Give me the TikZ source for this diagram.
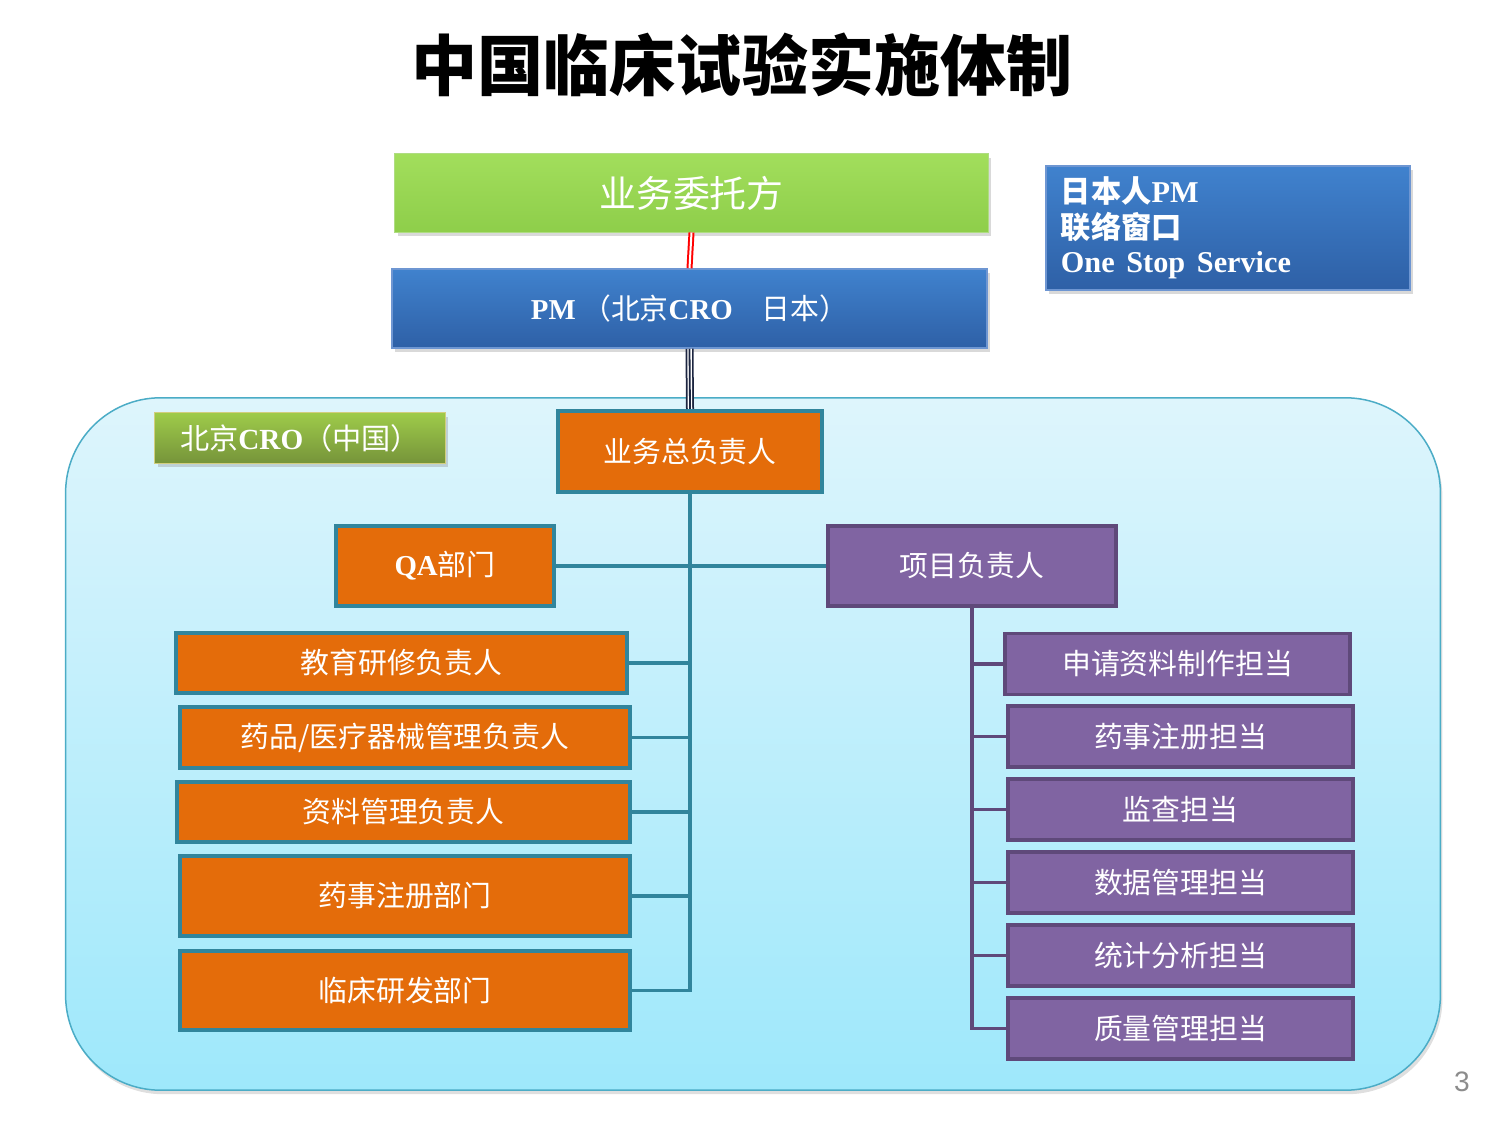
\documentclass[tikz,border=0pt]{standalone}
\usepackage{fontspec}
\setmainfont{Liberation Serif}
\setsansfont{Liberation Sans}
\newfontfamily\cjk{Noto Sans CJK SC}
\usepackage{tikz}
\usetikzlibrary{shadows}
\usepackage{xcolor}
\definecolor{orgfill}{HTML}{E46C0A}
\definecolor{orgline}{HTML}{31859C}
\definecolor{purfill}{HTML}{8064A2}
\definecolor{purline}{HTML}{5F497A}
\definecolor{navyline}{HTML}{1C2540}
\definecolor{skytop}{HTML}{DEF5FC}
\definecolor{skybottom}{HTML}{9EE8FB}
\definecolor{skyline}{HTML}{4BACC6}
\newcommand{\lat}[1]{{\rmfamily\bfseries #1}}
\tikzset{
  region/.style={
    rectangle,
    rounded corners=0.95cm,
    draw=skyline,
    line width=0.015cm,
    top color=skytop,
    bottom color=skybottom,
    drop shadow={shadow xshift=0.02cm, shadow yshift=-0.04cm, opacity=0.25}
    },
  greenbox/.style={
    rectangle,
    draw={rgb,255:red,175;green,220;blue,130},
    line width=0.01cm,
    top color={rgb,255:red,162;green,222;blue,92},
    bottom color={rgb,255:red,142;green,206;blue,74},
    text=white,
    drop shadow={shadow xshift=0.03cm, shadow yshift=-0.04cm, opacity=0.3}
    },
  labelbox/.style={
    rectangle,
    draw=olive!40,
    line width=0.01cm,
    top color={rgb,255:red,158;green,203;blue,74},
    bottom color={rgb,255:red,118;green,148;blue,58},
    text=white,
    drop shadow={shadow xshift=0.03cm, shadow yshift=-0.04cm, opacity=0.3}
    },
  bluebox/.style={
    rectangle,
    draw={rgb,255:red,110;green,150;blue,210},
    line width=0.015cm,
    top color={rgb,255:red,64;green,130;blue,206},
    bottom color={rgb,255:red,46;green,96;blue,166},
    text=white,
    drop shadow={shadow xshift=0.03cm, shadow yshift=-0.04cm, opacity=0.3}
    },
  orgbox/.style={
    rectangle,
    draw=orgline,
    line width=0.04cm,
    fill=orgfill,
    text=white,
    font=\cjk\fontsize{8.2}{10}\selectfont
    },
  purbox/.style={
    rectangle,
    draw=purline,
    line width=0.035cm,
    fill=purfill,
    text=white,
    minimum width=3.45cm,
    minimum height=0.61cm,
    font=\cjk\fontsize{8.2}{10}\selectfont
    },
  orglink/.style={draw=orgline, line width=0.035cm},
  purlink/.style={draw=purline, line width=0.035cm},
  redlink/.style={draw=red, line width=0.02cm, double=white, double distance=0.02cm},
  triplelink/.style={
    draw=navyline,
    line width=0.08cm,
    postaction={draw=white, line width=0.045cm},
    postaction={draw=navyline, line width=0.018cm}
    },
}

\begin{document}
\begin{tikzpicture}[
            x = 0.01cm, % one unit per pixel
            y = -0.01cm, % y runs downwards
            inner sep = 0pt
        ]

         \useasboundingbox (0,0) rectangle (1500,1125);

         % title
         \node (title) at (742,65) {\cjk\bfseries\fontsize{18.8}{22}\selectfont 中国临床试验实施体制};

         % Japan side
         \node[greenbox, minimum width=5.93cm, minimum height=0.78cm] (entrust) at (691.5,193)
              {\cjk\fontsize{10.5}{12}\selectfont 业务委托方};
         \node[bluebox, minimum width=5.95cm, minimum height=0.79cm] (pm) at (689.5,308.5)
              {\cjk\fontsize{8.2}{10}\selectfont \lat{PM} （北京\lat{CRO}\quad 日本）};
         \node[bluebox, minimum width=3.64cm, minimum height=1.24cm, text width=3.34cm, align=left] (jp) at (1228,228)
              {\cjk\bfseries\fontsize{8.6}{10.1}\selectfont 日本人\lat{PM}\\联络窗口\\[-2.3pt]\lat{One Stop Service}};

         % China side
         \node[region, minimum width=13.74cm, minimum height=6.92cm] (cn) at (753,744) {};
         \node[labelbox, minimum width=2.9cm, minimum height=0.5cm] (cnlabel) at (300,438)
              {\cjk\fontsize{8.3}{10}\selectfont 北京\lat{CRO}（中国）};

         \node[orgbox, minimum width=2.64cm, minimum height=0.81cm] (chief) at (690,451.5) {业务总负责人};
         \node[orgbox, minimum width=2.18cm, minimum height=0.8cm] (qa) at (445,566) {\lat{QA}部门};
         \node[purbox, minimum width=2.88cm, minimum height=0.8cm] (proj) at (972,566) {项目负责人};

         \node[orgbox, minimum width=4.51cm, minimum height=0.6cm] (edu) at (401.5,663) {教育研修负责人};
         \node[orgbox, minimum width=4.5cm, minimum height=0.61cm] (drug) at (405,737.5) {药品/医疗器械管理负责人};
         \node[orgbox, minimum width=4.53cm, minimum height=0.6cm] (doc) at (403.5,812) {资料管理负责人};
         \node[orgbox, minimum width=4.5cm, minimum height=0.8cm] (reg) at (405,896) {药事注册部门};
         \node[orgbox, minimum width=4.5cm, minimum height=0.79cm] (clin) at (405,990.5) {临床研发部门};

         \node[purbox] (apply) at (1177.5,664) {申请资料制作担当};
         \node[purbox] (regp) at (1180.5,736.5) {药事注册担当};
         \node[purbox] (mon) at (1180.5,809.5) {监查担当};
         \node[purbox] (dm) at (1180.5,882.5) {数据管理担当};
         \node[purbox] (stat) at (1180.5,955.5) {统计分析担当};
         \node[purbox] (qual) at (1180.5,1028.5) {质量管理担当};

         \node[text=black!45] (pagenum) at (1462,1082) {\sffamily\fontsize{8}{10}\selectfont 3};

         % links
         \draw[redlink] (entrust.south) -- (pm.north);
         \draw[triplelink] (pm.south) -- (chief.north);

         \draw[orglink] (chief.south) |- (clin.east);
         \draw[orglink] (qa.east) -- (proj.west);
         \draw[orglink] (edu.east) -- (edu.east -| chief.south);
         \draw[orglink] (drug.east) -- (drug.east -| chief.south);
         \draw[orglink] (doc.east) -- (doc.east -| chief.south);
         \draw[orglink] (reg.east) -- (reg.east -| chief.south);

         \draw[purlink] (proj.south) |- (qual.west);
         \draw[purlink] (apply.west) -- (apply.west -| proj.south);
         \draw[purlink] (regp.west) -- (regp.west -| proj.south);
         \draw[purlink] (mon.west) -- (mon.west -| proj.south);
         \draw[purlink] (dm.west) -- (dm.west -| proj.south);
         \draw[purlink] (stat.west) -- (stat.west -| proj.south);
  \end{tikzpicture}
\end{document}
